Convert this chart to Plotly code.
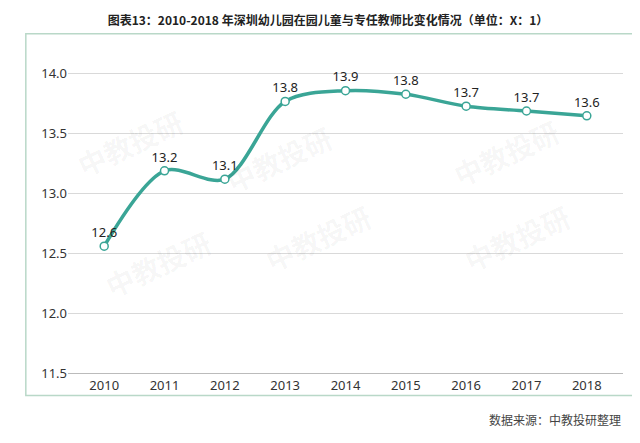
import plotly.graph_objects as go

years = ["2010", "2011", "2012", "2013", "2014", "2015", "2016", "2017", "2018"]
ratio = [12.56, 13.19, 13.12, 13.77, 13.86, 13.83, 13.73, 13.69, 13.65]
labels = ["12.6", "13.2", "13.1", "13.8", "13.9", "13.8", "13.7", "13.7", "13.6"]

teal = "#3aa596"
fig = go.Figure()
fig.add_trace(go.Scatter(
    x=years, y=ratio, mode="lines+markers+text",
    line=dict(color=teal, width=3.5, shape="spline", smoothing=0.9),
    marker=dict(size=8, color="white", line=dict(color=teal, width=1.5)),
    text=labels, textposition="top center",
    textfont=dict(family="Noto Sans", size=13, color="#222"),
    cliponaxis=False,
))

# faint watermarks
for x, y in [(0.0, 0.85), (0.38, 0.8), (0.9, 0.82), (0.05, 0.2), (0.45, 0.28), (0.92, 0.28)]:
    fig.add_annotation(x=x, y=y, xref="paper", yref="paper", text="<b>中教投研</b>",
                       showarrow=False, textangle=-25,
                       font=dict(family="Noto Sans CJK SC", size=28, color="rgba(0,0,0,0.045)"))

fig.update_layout(
    width=640, height=443,
    margin=dict(l=60, r=25, t=42, b=78),
    paper_bgcolor="white", plot_bgcolor="white",
    showlegend=False,
    title=dict(text="<b>图表13：2010-2018 年深圳幼儿园在园儿童与专任教师比变化情况（单位：X：1）</b>",
               x=0.5, xanchor="center", y=0.97, yanchor="middle",
               font=dict(family="Noto Sans CJK SC", size=12, color="#222")),
    shapes=[dict(type="rect", xref="paper", yref="paper", x0=-0.076, x1=1.023, y0=-0.07, y1=1.05,
                 line=dict(color="#b9d8c8", width=1.5))],
    xaxis=dict(showgrid=False, showline=True, linecolor="#bbb",
               tickfont=dict(family="Noto Sans", size=13, color="#333"), range=[-0.6, 8.6]),
    yaxis=dict(range=[11.5, 14.2], dtick=0.5, tick0=11.5, gridcolor="#d9d9d9",
               tickformat=".1f", zeroline=False,
               tickfont=dict(family="Noto Sans", size=13, color="#333")),
)
fig.add_annotation(x=1.0, y=-0.145, xref="paper", yref="paper", xanchor="right", yanchor="middle",
                   text="数据来源：中教投研整理", showarrow=False,
                   font=dict(family="Noto Sans CJK SC", size=12, color="#444"))
fig.write_html("out.html")
